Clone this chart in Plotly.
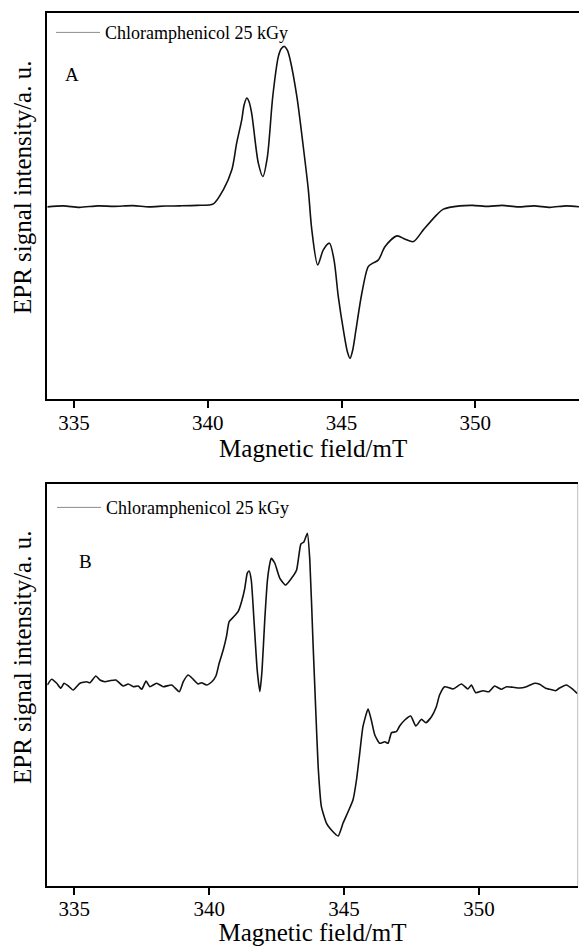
import plotly.graph_objects as go

# ---------------- data ----------------
field_a = [334.0, 334.6, 335.2, 335.9, 336.5, 337.2, 337.8, 338.4, 338.96, 339.6,
           340.21, 340.58, 340.90, 341.08, 341.27, 341.36, 341.46, 341.54, 341.64, 341.89,
           342.06, 342.23, 342.43, 342.64, 342.74, 342.86, 342.98, 343.08, 343.33, 343.57,
           343.76, 343.89, 344.11, 344.32, 344.55, 344.72, 344.88, 345.07, 345.22, 345.32,
           345.42, 345.54, 345.76, 346.00, 346.17, 346.38, 346.63, 347.07, 347.38, 347.69,
           348.06, 348.56, 348.81, 349.43, 349.9, 350.5, 351.0, 351.6, 352.2, 352.8,
           353.4, 353.9]
signal_a = [0, 1, -0.5, 1, 0.5, 1.2, 0, 0.8, 1, 1.5,
            3, 17, 37, 63.7, 87, 102, 108.7, 105.3, 93.7, 43.7,
            30.3, 50.3, 110.3, 150.3, 157.7, 160.3, 156.3, 147, 110.3, 60.3,
            17, -23, -58, -43, -36.3, -53, -89.7, -123, -144.7, -151.3,
            -143, -123, -86.3, -59.7, -56.3, -53, -39.7, -29, -32.3, -34.7,
            -23, -8, -2.3, 1, 1.5, 0.5, 1.5, 0, 1, -0.5,
            1, 0]

field_b = [334.00, 334.16, 334.35, 334.50, 334.62, 334.78, 334.96, 335.21, 335.46, 335.58,
           335.80, 335.95, 336.14, 336.32, 336.54, 336.81, 337.00, 337.19, 337.37, 337.50,
           337.66, 337.80, 338.05, 338.30, 338.61, 338.89, 339.04, 339.22, 339.41, 339.59,
           339.72, 339.90, 340.09, 340.25, 340.37, 340.52, 340.64, 340.74, 340.89, 341.07,
           341.20, 341.32, 341.41, 341.48, 341.56, 341.66, 341.78, 341.88, 341.96, 342.06,
           342.16, 342.25, 342.30, 342.43, 342.62, 342.83, 343.05, 343.24, 343.40, 343.51,
           343.64, 343.73, 343.85, 343.95, 344.04, 344.16, 344.35, 344.53, 344.78, 344.96,
           345.15, 345.33, 345.46, 345.58, 345.70, 345.89, 346.01, 346.14, 346.32, 346.51,
           346.63, 346.76, 346.94, 347.06, 347.25, 347.47, 347.66, 347.87, 348.03, 348.24,
           348.42, 348.54, 348.73, 349.04, 349.35, 349.59, 349.72, 349.88, 350.15, 350.37,
           350.58, 350.83, 351.02, 351.26, 351.51, 351.76, 352.06, 352.25, 352.47, 352.62,
           352.84, 352.99, 353.24, 353.48, 353.67]
signal_b = [0, 5.7, 1.7, -3.3, 1.7, -1, -5, 1.7, 3.3, 2.3,
            9, 5, 3.3, 4.3, 5, -1, 1, -1.7, -1, -4.3,
            4, -1.7, 1.7, -1.7, 0, -6.7, 3.3, 10, 5.7, 1,
            2.3, 0, 3, 9, 21.7, 35, 48.3, 63.3, 67.7, 73.3,
            83.3, 96.7, 111.7, 114, 105, 65, 15, -6.7, 15, 65,
            105, 121.7, 126.7, 122, 106.7, 100, 106.7, 115, 141, 143,
            151.7, 125, 41.7, -25, -81.7, -121.7, -138.3, -145, -151, -138.3,
            -126.7, -115, -95, -68.3, -41.7, -24, -35, -50, -58.3, -56.7,
            -58.3, -47.7, -46.7, -41, -35, -31, -41, -34.3, -37.7, -31.7,
            -21.7, -10, -1.7, -4, 1, -4, 0, -7.7, -5.7, -6.7,
            -1, -4.3, -1.7, -2.3, -3, -1.7, 1.7, 0.7, -3.3, -4.3,
            -5.7, -3, 0, -4.3, -9]

x_ticks = [335, 340, 345, 350]
series_name = "Chloramphenicol 25 kGy"
panel_labels = ["A", "B"]
x_title = "Magnetic field/mT"
y_title = "EPR signal intensity/a. u."

# ---------------- figure ----------------
W, H = 579, 946
FONT = "Liberation Serif"


def py(px):  # pixel from top -> paper y
    return 1 - px / H


def pxx(px):  # pixel from left -> paper x
    return px / W


fig = go.Figure()

curve_style = dict(color="#111111", width=1.6)

fig.add_trace(go.Scatter(x=field_a, y=signal_a, mode="lines",
                         line=dict(shape="spline", smoothing=0.8, **curve_style),
                         name=series_name, showlegend=False, xaxis="x", yaxis="y"))
fig.add_trace(go.Scatter(x=[None], y=[None], mode="lines",
                         line=dict(color="#8c8c8c", width=1),
                         name=series_name, legend="legend", xaxis="x", yaxis="y"))

fig.add_trace(go.Scatter(x=field_b, y=signal_b, mode="lines",
                         line=dict(shape="spline", smoothing=0.5, **curve_style),
                         name=series_name, showlegend=False, xaxis="x2", yaxis="y2"))
fig.add_trace(go.Scatter(x=[None], y=[None], mode="lines",
                         line=dict(color="#8c8c8c", width=1),
                         name=series_name, legend="legend2", xaxis="x2", yaxis="y2"))

xcommon = dict(
    tickvals=x_ticks, ticks="outside", ticklen=7, tickwidth=2, tickcolor="black",
    tickfont=dict(family=FONT, size=21, color="black"), ticklabelstandoff=-4,
    showline=True, linecolor="black", linewidth=2, mirror=True,
    showgrid=False, zeroline=False,
)
ycommon = dict(
    showticklabels=False, ticks="", showgrid=False, zeroline=False,
    showline=True, linecolor="black", linewidth=2, mirror=False,
)

fig.update_layout(
    width=W, height=H,
    margin=dict(l=0, r=0, t=0, b=0),
    paper_bgcolor="white", plot_bgcolor="white",
    font=dict(family=FONT, color="black"),
    xaxis=dict(domain=[pxx(47.3), 1.0], anchor="y", range=[334.0, 353.88],
               title=dict(text=x_title, font=dict(family=FONT, size=25, color="black"), standoff=3),
               **xcommon),
    yaxis=dict(domain=[py(399.3), py(12.7)], anchor="x", range=[-192.3, 194], **ycommon),
    xaxis2=dict(domain=[pxx(47.3), pxx(577.7)], anchor="y2", range=[334.0, 353.66],
                title=dict(text=x_title, font=dict(family=FONT, size=25, color="black"), standoff=3),
                **xcommon),
    yaxis2=dict(domain=[py(885.7), py(484)], anchor="x2", range=[-200.7, 201], **ycommon),
    legend=dict(x=pxx(51), y=py(32.7), xanchor="left", yanchor="middle",
                bgcolor="rgba(0,0,0,0)", borderwidth=0, itemwidth=44,
                font=dict(family=FONT, size=18, color="black")),
    legend2=dict(x=pxx(52), y=py(507.7), xanchor="left", yanchor="middle",
                 bgcolor="rgba(0,0,0,0)", borderwidth=0, itemwidth=44,
                 font=dict(family=FONT, size=18, color="black")),
)

# right border of panel B (light grey)
fig.add_shape(type="line", xref="x2 domain", yref="y2 domain", x0=1, x1=1, y0=0, y1=1,
              line=dict(color="#bdbdbd", width=1))

# panel letters
ann_common = dict(xref="paper", yref="paper", showarrow=False,
                  xanchor="center", yanchor="middle")
fig.add_annotation(text=panel_labels[0], x=pxx(72), y=py(74),
                   font=dict(family=FONT, size=19, color="black"), **ann_common)
fig.add_annotation(text=panel_labels[1], x=pxx(85), y=py(561.7),
                   font=dict(family=FONT, size=19, color="black"), **ann_common)

# y-axis titles
for yc in (188, 658):
    fig.add_annotation(text=y_title, x=pxx(22), y=py(yc), textangle=-90,
                       font=dict(family=FONT, size=25, color="black"), **ann_common)

fig.write_html("out.html", config={"displayModeBar": False},
               post_script="document.body.style.margin='0';")
